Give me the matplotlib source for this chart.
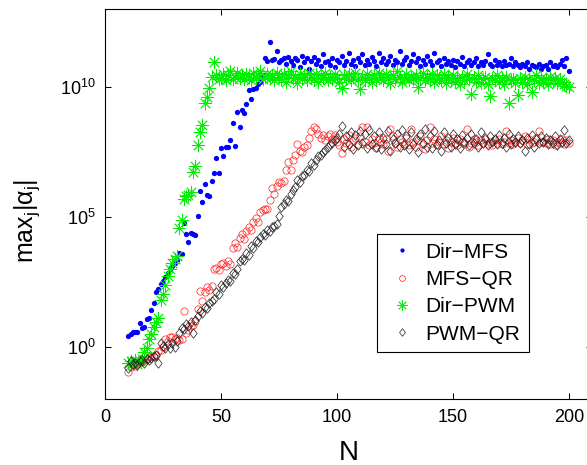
import matplotlib
matplotlib.use('Agg')
import matplotlib.pyplot as plt
import numpy as np
from matplotlib.path import Path
from matplotlib.ticker import NullLocator

plt.rcParams['font.family'] = ['Liberation Sans', 'DejaVu Sans']
plt.rcParams['mathtext.fontset'] = 'custom'
plt.rcParams['mathtext.rm'] = 'Liberation Sans'
plt.rcParams['mathtext.it'] = 'Liberation Sans:italic'
plt.rcParams['mathtext.default'] = 'regular'

N = np.arange(10, 201)

# log10(max_j |alpha_j|), N = 10..200
dir_mfs = [
    0.43, 0.49, 0.56, 0.59, 0.56, 0.92, 0.72, 0.77, 1.08, 1.13,
    1.43, 1.69, 2.13, 2.23, 2.43, 2.55, 2.69, 2.85, 3.00, 3.13,
    3.25, 3.33, 3.60, 3.56, 4.78, 4.33, 4.02, 4.38, 4.35, 4.31,
    5.05, 6.00, 5.59, 6.28, 5.85, 5.80, 6.38, 6.69, 7.28, 6.69,
    7.66, 7.33, 7.70, 7.68, 7.97, 8.60, 7.74, 9.05, 8.46, 9.10,
    9.00, 9.36, 9.87, 9.54, 9.92, 9.97, 10.10, 10.20, 10.45, 11.10,
    11.00, 11.72, 11.02, 11.08, 11.38, 10.95, 11.05, 11.12, 10.90, 11.15,
    11.00, 10.85, 11.10, 11.05, 10.75, 11.20, 10.95, 11.10, 10.70, 11.00,
    11.15, 10.90, 11.05, 10.80, 11.25, 10.95, 11.00, 10.85, 11.10, 10.75,
    11.05, 10.95, 11.20, 10.85, 11.00, 11.30, 10.90, 11.05, 10.80, 11.10,
    10.95, 11.25, 10.85, 11.05, 10.90, 11.15, 11.00, 10.80, 11.30, 10.95,
    11.10, 10.90, 11.00, 11.20, 10.85, 11.05, 10.95, 11.40, 10.90, 11.05,
    11.15, 10.85, 11.00, 11.25, 10.95, 11.10, 10.80, 11.05, 10.90, 11.20,
    11.00, 10.85, 11.30, 10.95, 11.05, 10.80, 11.10, 10.90, 11.00, 10.85,
    11.05, 10.75, 11.00, 10.90, 11.15, 10.80, 10.95, 11.05, 10.85, 10.95,
    11.10, 10.80, 10.95, 10.85, 11.00, 11.25, 10.90, 10.80, 11.05, 10.85,
    10.95, 10.80, 11.00, 10.85, 10.90, 11.10, 10.80, 10.95, 10.85, 10.75,
    10.90, 10.80, 10.95, 10.70, 10.85, 10.80, 10.75, 10.90, 10.70, 10.80,
    10.85, 10.70, 10.95, 10.80, 10.85, 10.75, 10.90, 11.05, 10.80, 11.10,
    10.60,
]

mfs_qr = [
    -0.97, -0.75, -0.70, -0.72, -0.65, -0.60, -0.55, -0.50, -0.45, -0.38,
    -0.35, -0.40, -0.30, -0.15, -0.10, 0.00, 0.30, 0.25, 0.38, 0.40,
    0.30, 0.35, 0.28, 0.32, 1.38, 0.55, 0.65, 0.80, 0.85, 1.00,
    1.45, 2.15, 1.77, 2.10, 2.30, 2.20, 2.35, 3.00, 3.05, 2.95,
    3.20, 3.25, 3.10, 3.30, 3.20, 3.80, 4.00, 3.85, 4.20, 4.35,
    4.15, 4.45, 4.60, 4.50, 4.80, 4.95, 4.82, 5.20, 5.25, 5.30,
    5.30, 5.67, 6.10, 5.90, 6.20, 6.35, 6.30, 6.40, 6.80, 7.10,
    6.82, 7.20, 7.40, 7.80, 7.55, 7.50, 7.70, 7.75, 8.05, 8.30,
    8.45, 8.40, 8.20, 8.05, 8.15, 7.95, 8.10, 8.20, 8.00, 8.15,
    7.90, 7.75, 7.45, 8.00, 7.85, 8.15, 7.70, 7.95, 8.05, 7.80,
    8.10, 8.48, 7.90, 8.45, 7.75, 8.00, 7.85, 7.65, 8.05, 7.90,
    7.80, 8.00, 7.55, 8.40, 8.10, 7.85, 7.70, 8.00, 7.90, 7.80,
    8.05, 7.75, 8.40, 7.90, 7.70, 7.95, 8.10, 7.80, 7.60, 7.95,
    8.45, 7.85, 8.00, 7.75, 7.90, 8.10, 7.80, 7.95, 7.65, 7.90,
    8.05, 7.85, 7.75, 8.00, 7.90, 7.80, 8.40, 7.70, 7.85, 8.00,
    7.90, 7.75, 7.95, 7.85, 8.00, 7.80, 7.90, 7.75, 7.95, 7.85,
    8.00, 7.80, 7.90, 8.30, 7.85, 7.95, 7.80, 7.90, 8.05, 7.85,
    7.95, 8.10, 7.80, 8.00, 7.85, 7.90, 8.05, 8.30, 7.90, 7.90,
    7.85, 8.00, 7.80, 7.95, 7.75, 7.90, 7.85, 8.00, 7.80, 7.95,
    7.85,
]

dir_pwm = [
    -0.62, -0.55, -0.60, -0.50, -0.65, -0.55, -0.45, -0.20, -0.05, 0.30,
    0.50, 0.78, 0.95, 1.13, 1.80, 2.05, 2.40, 2.74, 3.00, 3.23,
    3.40, 3.51, 4.59, 4.87, 5.70, 5.80, 5.85, 5.95, 6.74, 6.97,
    7.77, 8.25, 8.55, 9.38, 9.60, 9.95, 10.40, 10.95, 10.45, 10.30,
    10.35, 10.50, 10.25, 10.45, 10.60, 10.30, 10.40, 10.55, 10.35, 10.45,
    10.30, 10.50, 10.40, 10.25, 10.55, 10.35, 10.45, 10.60, 10.30, 10.40,
    10.50, 10.35, 10.45, 10.25, 10.55, 10.40, 10.30, 10.50, 10.20, 10.45,
    10.60, 10.35, 10.40, 10.15, 10.50, 10.30, 10.45, 10.25, 10.55, 10.40,
    10.30, 10.50, 10.20, 10.45, 10.35, 10.55, 10.25, 10.40, 10.30, 10.50,
    10.35, 10.20, 9.97, 10.45, 10.30, 10.50, 10.25, 10.40, 10.55, 10.30,
    9.92, 10.40, 10.25, 10.50, 10.35, 10.20, 10.45, 10.30, 10.55, 10.40,
    10.25, 10.50, 10.35, 10.15, 10.45, 10.30, 10.60, 10.40, 10.20, 10.35,
    10.50, 10.25, 10.40, 10.30, 10.45, 10.00, 10.35, 10.55, 10.25, 10.40,
    10.30, 10.50, 10.20, 10.45, 10.35, 10.25, 10.50, 10.15, 10.40, 10.30,
    10.45, 10.20, 10.35, 10.10, 10.40, 10.25, 10.50, 10.30, 9.74, 10.35,
    10.20, 10.45, 10.15, 10.30, 10.40, 10.10, 9.64, 10.35, 10.25, 10.45,
    10.20, 10.35, 10.10, 10.40, 9.38, 10.25, 10.30, 10.15, 9.69, 10.35,
    10.20, 10.40, 10.10, 10.30, 9.79, 10.25, 10.45, 10.15, 10.35, 10.20,
    10.30, 10.10, 10.40, 10.25, 10.35, 10.15, 10.30, 10.20, 10.10, 10.05,
    10.00,
]

pwm_qr = [
    -0.80, -0.55, -0.65, -0.60, -0.70, -0.55, -0.50, -0.62, -0.45, -0.50,
    -0.41, -0.35, -0.30, -0.60, 0.17, 0.05, -0.03, 0.10, -0.05, 0.15,
    0.00, 0.25, 0.55, 0.75, 0.70, 0.90, 0.80, 0.97, 0.54, 1.05,
    1.18, 1.40, 1.30, 1.55, 1.50, 1.70, 1.77, 1.85, 2.13, 2.05,
    2.38, 2.30, 2.45, 2.59, 2.55, 2.85, 2.80, 3.00, 3.30, 3.40,
    3.35, 3.60, 3.55, 3.87, 3.80, 4.08, 4.05, 4.25, 4.33, 4.30,
    4.51, 4.45, 4.60, 4.67, 4.75, 5.02, 5.40, 5.50, 5.67, 5.62,
    5.90, 6.05, 6.15, 6.43, 6.35, 6.56, 6.60, 6.82, 6.75, 7.08,
    7.00, 7.20, 7.33, 7.40, 7.50, 7.59, 7.70, 7.80, 7.85, 7.95,
    8.02, 8.20, 8.50, 7.70, 8.10, 7.80, 8.25, 7.60, 8.15, 7.75,
    8.30, 7.85, 8.20, 7.65, 8.35, 7.80, 8.10, 7.70, 8.25, 7.60,
    8.05, 7.80, 8.30, 7.55, 8.00, 7.85, 8.20, 7.70, 8.35, 7.75,
    8.10, 7.60, 8.25, 7.80, 8.00, 7.50, 8.20, 7.85, 8.40, 7.70,
    8.10, 7.65, 8.30, 7.80, 7.95, 7.55, 8.25, 7.85, 8.05, 7.70,
    8.20, 7.80, 8.00, 7.65, 8.15, 7.90, 8.05, 7.75, 8.20, 7.85,
    8.00, 7.70, 8.25, 7.85, 8.05, 7.75, 8.10, 7.90, 8.00, 7.80,
    8.15, 7.85, 8.05, 7.70, 8.20, 7.80, 8.00, 7.90, 8.10, 7.85,
    7.95, 7.55, 8.05, 7.80, 8.15, 7.70, 8.00, 7.85, 8.10, 7.90,
    8.05, 7.80, 7.95, 7.85, 8.10, 7.75, 8.00, 7.90, 8.33, 7.85,
    7.95,
]

labels = ['Dir\u2212MFS', 'MFS\u2212QR', 'Dir\u2212PWM', 'PWM\u2212QR']

# matlab style diamond (a bit taller than wide)
diamond = Path([(0, 1), (0.78, 0), (0, -1), (-0.78, 0), (0, 1)],
               [Path.MOVETO, Path.LINETO, Path.LINETO, Path.LINETO, Path.CLOSEPOLY])

fig = plt.figure(figsize=(5.87, 4.65), dpi=100)
ax = fig.add_axes([105/587, 66/465, 487/587, 390/465])

ax.semilogy(N, 10**np.array(dir_mfs), ls='none', marker='o', ms=3.8,
            mfc='#0000ff', mec='none', label=labels[0])
ax.semilogy(N, 10**np.array(mfs_qr), ls='none', marker='o', ms=5.2,
            mfc='none', mec='#ff2020', mew=0.5, label=labels[1])
ax.semilogy(N, 10**np.array(dir_pwm), ls='none', marker=(8, 2, 0), ms=9.5,
            mec='#00ee00', mew=0.6, label=labels[2])
ax.semilogy(N, 10**np.array(pwm_qr), ls='none', marker=diamond, ms=6.8,
            mfc='none', mec='#202020', mew=0.5, label=labels[3])

ax.set_xlim(0, 210)
ax.set_ylim(1e-2, 1e13)
ax.set_xticks([0, 50, 100, 150, 200])
ax.set_yticks([1e0, 1e5, 1e10])
ax.yaxis.set_minor_locator(NullLocator())
ax.tick_params(which='both', direction='in', top=True, right=True,
               length=4, width=0.75, labelsize=13, pad=7)
for s in ax.spines.values():
    s.set_linewidth(0.8)

ax.set_xlabel('N', fontsize=20, va='top')
ax.xaxis.set_label_coords(0.5, -0.105)
ax.set_ylabel(r'max$_j$|$\alpha_j$|', fontsize=18, va='center')
ax.yaxis.set_label_coords(-0.16, 0.456)

leg = ax.legend(loc='upper left', bbox_to_anchor=(0.5577, 0.4223), borderaxespad=0,
                fancybox=False, edgecolor='black', framealpha=1, fontsize=15,
                handlelength=1.6, handletextpad=0.35, borderpad=0.4,
                labelspacing=0.4, numpoints=1, markerscale=0.8)
leg.get_frame().set_linewidth(0.8)

fig.savefig('out.png', dpi=100)
